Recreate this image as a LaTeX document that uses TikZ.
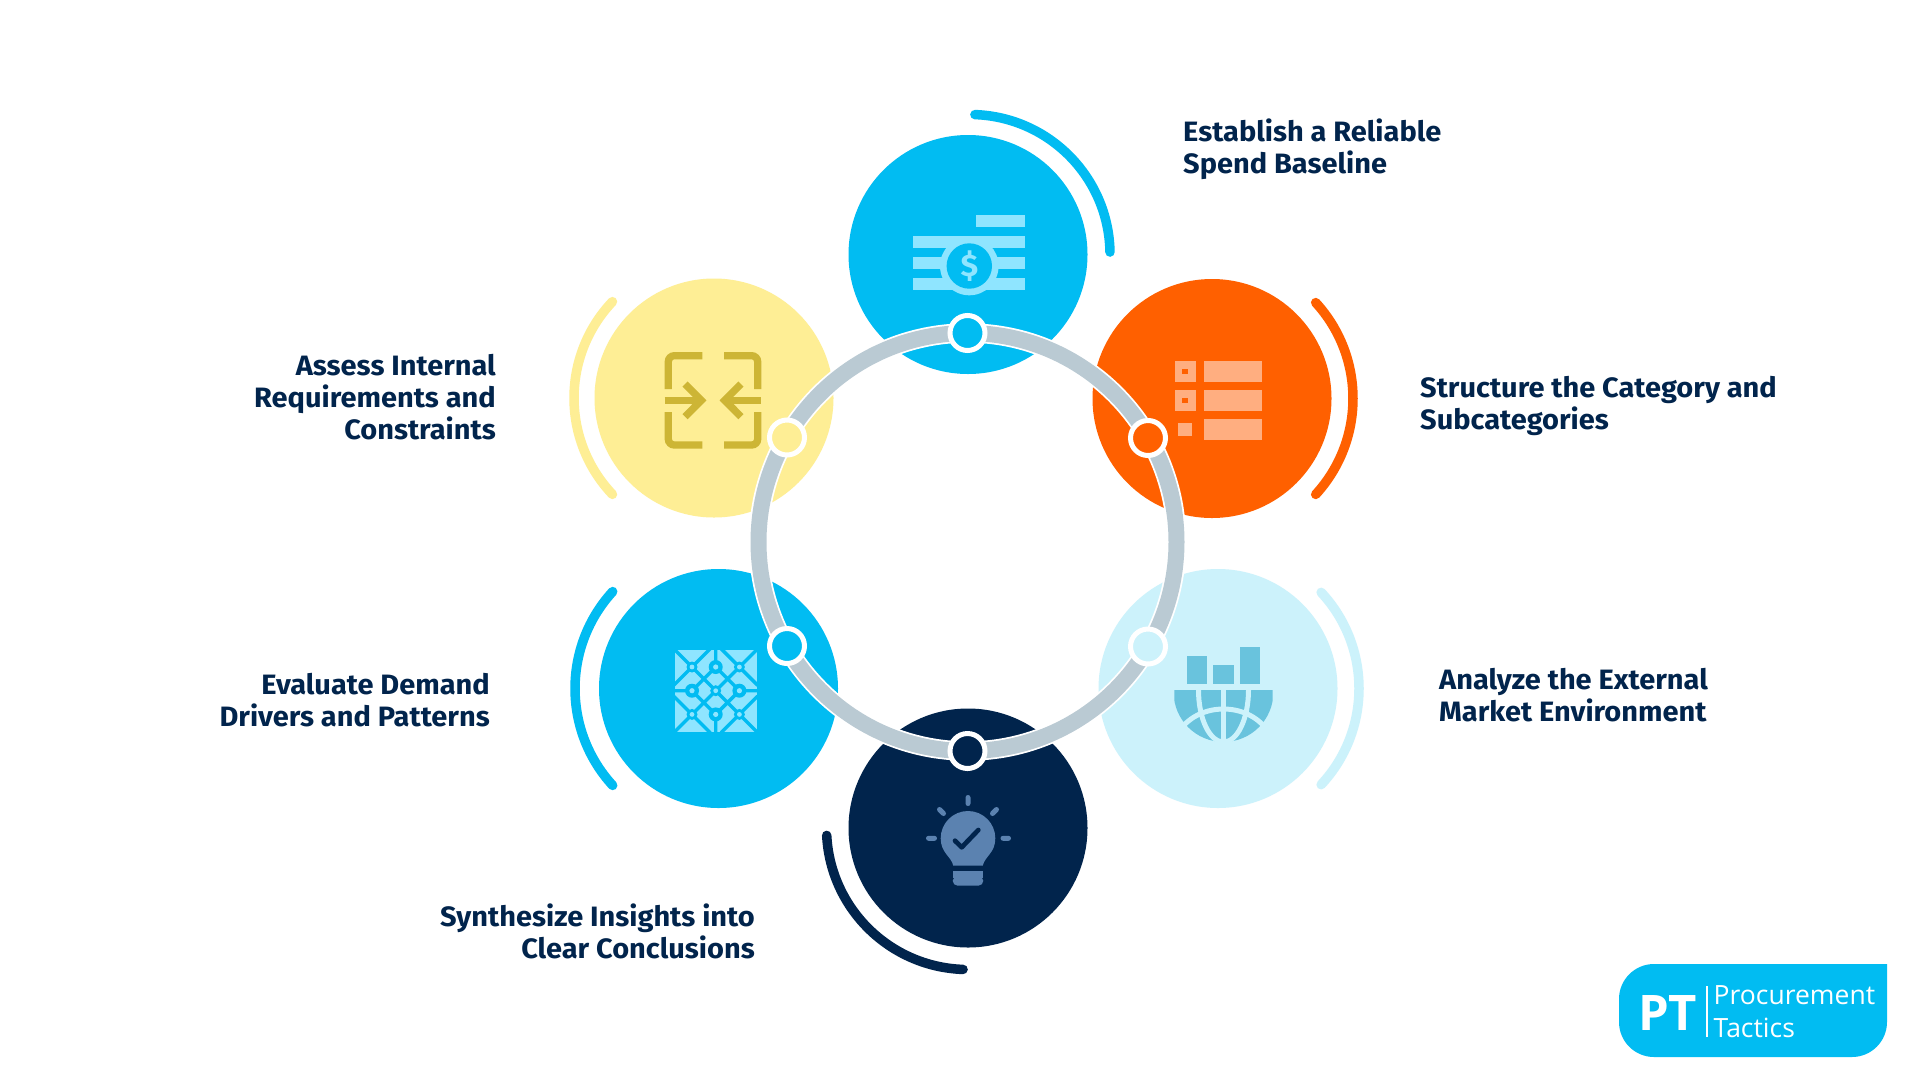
\documentclass[tikz,border=0pt]{standalone}
\usepackage{fontspec}
\usetikzlibrary{calc}
\newfontfamily\lblfont{Fira Sans}[FakeStretch=1.035]
\newfontfamily\logofont{Open Sans}
\definecolor{cblue}{HTML}{01BCF2}
\definecolor{corange}{HTML}{FF6000}
\definecolor{clight}{HTML}{CCF2FB}
\definecolor{cnavy}{HTML}{01244C}
\definecolor{cyellow}{HTML}{FEEE95}
\definecolor{cring}{HTML}{BACAD3}
\definecolor{iblue}{HTML}{8FE5FF}
\definecolor{iorange}{HTML}{FFAE80}
\definecolor{ilight}{HTML}{69C3DD}
\definecolor{iyellow}{HTML}{CDB535}
\definecolor{ibulb}{HTML}{5B82B0}
\newcommand{\firstline}{\rule{0pt}{24pt}}
\tikzset{
  x=1pt,y=-1pt,
  disc/.style={circle,inner sep=0pt,minimum size=239pt,fill=#1},
  halfarc/.style={draw=#1,line width=9.5pt,line cap=round},
  bead/.style={circle,inner sep=0pt,minimum size=35pt,fill=#1,draw=white,line width=5pt},
  lbl/.style={inner sep=0pt,text=cnavy,font=\lblfont\bfseries\fontsize{28}{32}\selectfont},
  lblL/.style={lbl,anchor=north west,align=left},
  lblR/.style={lbl,anchor=north east,align=right},
}
\begin{document}
\begin{tikzpicture}
\useasboundingbox (0,0) rectangle (1920,1080);
\fill[white] (0,0) rectangle (1920,1080);
% discs
\node[disc=cblue]   (top)    at (968,254.5) {};
\node[disc=corange] (orange) at (1212,398.5) {};
\node[disc=clight]  (light)  at (1218,688.5) {};
\node[disc=cnavy]   (navy)   at (968,828) {};
\node[disc=cblue]   (left)   at (718.5,688.5) {};
\node[disc=cyellow] (yellow) at (714,398) {};
% outer arcs
\draw[halfarc=cblue]   ($(top)+(2pt,0pt)+(88:140pt)$) arc[start angle=88,end angle=1,radius=140pt];
\draw[halfarc=corange] ($(orange)+(-1pt,0pt)+(42.5:142pt)$) arc[start angle=42.5,end angle=-42.5,radius=142pt];
\draw[halfarc=clight]  ($(light)+(43:141pt)$) arc[start angle=43,end angle=-43,radius=141pt];
\draw[halfarc=cnavy]   ($(navy)+(-92:141.5pt)$) arc[start angle=-92,end angle=-177,radius=141.5pt];
\draw[halfarc=cblue]   ($(left)+(137.5:143.5pt)$) arc[start angle=137.5,end angle=222.5,radius=143.5pt];
\draw[halfarc=cyellow] ($(yellow)+(136.5:140pt)$) arc[start angle=136.5,end angle=223.5,radius=140pt];
% icon: banknotes
\fill[iblue] (976,215) rectangle (1025,227);
\fill[iblue] (913,236) rectangle (1025,248);
\fill[iblue] (913,257.3) rectangle (1025,269.3);
\fill[iblue] (913,278.3) rectangle (1025,290.3);
\fill[iblue] (969.3,266) circle[radius=29.3pt];
\fill[cblue] (969.3,266) circle[radius=22.7pt];
\node[inner sep=0pt,text=iblue,font=\lblfont\bfseries\fontsize{31}{31}\selectfont] (dollar) at (969.3,266.5) {\$};
% icon: list
\fill[iorange] (1174.7,361) rectangle (1195.7,382);
\fill[corange] (1182.3,369) rectangle (1187.7,374);
\fill[iorange] (1174.7,390) rectangle (1195.7,411);
\fill[corange] (1182.3,398) rectangle (1187.7,403);
\fill[iorange] (1178.3,422.7) rectangle (1191.7,435.7);
\fill[iorange] (1204.3,361) rectangle (1261.7,382);
\fill[iorange] (1204.3,390) rectangle (1261.7,411);
\fill[iorange] (1204.3,419) rectangle (1261.7,439.7);
% icon: market globe
\fill[ilight] (1187,656.3) rectangle (1207.3,684.3);
\fill[ilight] (1213.3,665.3) rectangle (1233.7,684.3);
\fill[ilight] (1239.7,647) rectangle (1260,684.3);
\begin{scope}
  \clip (1174.3,690) rectangle (1272.7,742.5);
  \fill[ilight] (1223.5,692) circle[radius=49.9pt];
  \draw[clight,line width=5pt] (1223.5,690) ellipse[x radius=25pt,y radius=52pt];
  \draw[clight,line width=5pt] (1223.5,685) -- (1223.5,745);
  \draw[clight,line width=5pt] (1180,730) .. controls (1200,702) and (1247,702) .. (1267,730);
\end{scope}
% icon: bulb
\fill[ibulb] (953.3,865.7) .. controls (951,856) and (940.7,853) .. (940.7,838.3)
  arc[start angle=180,end angle=0,radius=27.3pt]
  .. controls (995.3,853) and (985,856) .. (982.7,865.7) -- cycle;
\fill[ibulb,rounded corners=5pt] (952.7,876) -- (952.7,885.7) -- (983.3,885.7) -- (983.3,876) -- cycle;
\fill[ibulb] (952.7,871) rectangle (983.3,878);
\draw[ibulb,line width=5pt,line cap=round]
  (968,797.5)--(968,803.5) (928.5,838.3)--(934.5,838.3) (1003,838.3)--(1008.5,838.3)
  (939.5,809.5)--(943.5,813.5) (996.5,809.5)--(992.5,813.5);
\draw[cnavy,line width=4.7pt,line cap=round,line join=round] (955,840.7)--(961.7,847.3)--(978.3,830);
% icon: lattice
\begin{scope}[shift={(715.7,690.7)}]
  \fill[iblue] (-40.8,-40.8) rectangle (40.8,40.8);
  \draw[cblue,line width=3.4pt]
    (-42,-42)--(42,42) (-42,42)--(42,-42)
    (0,-23.7)--(-23.7,0)--(0,23.7)--(23.7,0)--cycle
    (-42,-5.4)--(-5.4,-42) (42,-5.4)--(5.4,-42) (-42,5.4)--(-5.4,42) (42,5.4)--(5.4,42)
    (0,-42)--(0,-23.7) (0,23.7)--(0,42) (-42,0)--(-23.7,0) (23.7,0)--(42,0);
  \foreach \a/\b in {-23.7/-23.7,23.7/-23.7,-23.7/23.7,23.7/23.7,0/0}{
    \fill[cblue] (\a,\b) circle[radius=5.5pt];
    \fill[iblue] (\a,\b) circle[radius=2.4pt];}
  \foreach \a/\b in {0/-23.7,0/23.7,-23.7/0,23.7/0}{
    \fill[cblue] (\a,\b) circle[radius=7pt];
    \fill[iblue] (\a,\b) circle[radius=2.6pt];}
\end{scope}
% icon: brackets and arrows
\draw[iyellow,line width=7.3pt,rounded corners=6pt]
  (668.3,389)--(668.3,355.7)--(702.3,355.7)
  (724,355.7)--(757.7,355.7)--(757.7,389)
  (668.3,412)--(668.3,445)--(702.3,445)
  (724,445)--(757.7,445)--(757.7,412);
\draw[iyellow,line width=7.3pt] (664.7,400.3)--(700,400.3) (726,400.3)--(761.3,400.3);
\draw[iyellow,line width=7.3pt,miter limit=10] (685,384)--(701.3,400.3)--(685,416.7);
\draw[iyellow,line width=7.3pt,miter limit=10] (741,384)--(724.7,400.3)--(741,416.7);
% ring
\coordinate (hub) at (967.5,542);
\draw[white,line width=19.5pt] (hub) circle[radius=209pt];
\draw[cring,line width=16pt] (hub) circle[radius=209pt];
\node[bead=cblue]   (b1) at (967.5,333) {};
\node[bead=corange] (b2) at (1148,438) {};
\node[bead=clight]  (b3) at (1148,646.5) {};
\node[bead=cnavy]   (b4) at (967.5,751) {};
\node[bead=cblue]   (b5) at (787,646) {};
\node[bead=cyellow] (b6) at (787,437.5) {};
% labels
\node[lblL] (t1) at (1183,117) {\firstline Establish a Reliable\\Spend Baseline};
\node[lblL] (t2) at (1420,373) {\firstline Structure the Category and\\Subcategories};
\node[lblL] (t3) at (1439,665) {\firstline Analyze the External\\Market Environment};
\node[lblR] (t4) at (755,902) {\firstline Synthesize Insights into\\Clear Conclusions};
\node[lblR] (t5) at (490,670) {\firstline Evaluate Demand\\Drivers and Patterns};
\node[lblR] (t6) at (496,351.5) {\firstline Assess Internal\\Requirements and\\Constraints};
% logo
\fill[cblue] (1654,964) -- (1887,964) -- (1887,1022) arc[start angle=0,end angle=-90,radius=35pt]
  -- (1654,1057) arc[start angle=270,end angle=180,radius=35pt]
  -- (1619,999) arc[start angle=180,end angle=90,radius=35pt] -- cycle;
\node[anchor=base west,inner sep=0pt,text=white,font=\logofont\bfseries\fontsize{49}{49}\selectfont] (pt) at (1638,1030) {PT};
\draw[white,line width=1.5pt] (1707,986) -- (1707,1037);
\node[anchor=base west,inner sep=0pt,text=white,font=\logofont\fontsize{26.5}{27}\selectfont] (proc) at (1713.5,1004.5) {Procurement};
\node[anchor=base west,inner sep=0pt,text=white,font=\logofont\fontsize{26.5}{27}\selectfont] (tact) at (1713.5,1037) {Tactics};
\end{tikzpicture}
\end{document}
